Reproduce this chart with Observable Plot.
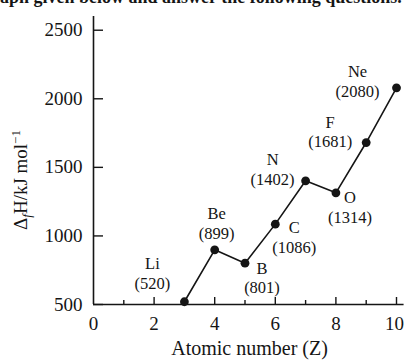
<!DOCTYPE html>
<html>
<head>
<meta charset="utf-8">
<script src="https://cdn.jsdelivr.net/npm/d3@7"></script>
<script src="https://cdn.jsdelivr.net/npm/@observablehq/plot@0.6"></script>
<style>
  html, body { margin: 0; padding: 0; background: #fff; }
  #chart svg { display: block; }
</style>
</head>
<body>
<div id="chart"></div>
<script>
// ---- data ----
const atomicNumber = [3, 4, 5, 6, 7, 8, 9, 10];
const elementSymbol = ["Li", "Be", "B", "C", "N", "O", "F", "Ne"];
const ionizationEnergy = [520, 899, 801, 1086, 1402, 1314, 1681, 2080];
const yTickValues = [500, 1000, 1500, 2000, 2500];
const xMajorTicks = [0, 2, 4, 6, 8, 10];
const xMinorTicks = [1, 3, 5, 7, 9];
const xTitle = "Atomic number (Z)";
const headerText = "aph given below and answer the following questions.";

// ---- layout (pixel offsets of each label from its point) ----
const labelOffset = {
  Li: [-32, -38], Be: [2, -36], B: [17, 5], C: [19, 4],
  N: [-33, -21], O: [14, 5], F: [-36, -20], Ne: [-39, -16]
};
const valueGap = 19.5;

const rows = atomicNumber.map((z, i) => ({z, el: elementSymbol[i], e: ionizationEnergy[i]}));
const ink = "#151515";

const labelMarks = rows.flatMap(r => {
  const [dx, dy] = labelOffset[r.el];
  return [
    Plot.text([r], {x: "z", y: "e", text: "el", dx, dy, fontSize: 16.5, fill: ink}),
    Plot.text([r], {x: "z", y: "e", text: d => `(${d.e})`, dx, dy: dy + valueGap, fontSize: 16.5, fill: ink})
  ];
});

const chart = Plot.plot({
  width: 404,
  height: 361,
  marginLeft: 93,
  marginRight: 8,
  marginTop: 16,
  marginBottom: 57,
  x: {domain: [0, 10], axis: null},
  y: {domain: [500, 2600], axis: null},
  style: {fontFamily: "'Liberation Serif', 'DejaVu Serif', serif", background: "#fff", color: ink},
  marks: [
    // axis lines
    Plot.ruleX([0], {y1: 500, y2: 2600, stroke: ink, strokeWidth: 1.6}),
    Plot.ruleY([500], {x1: 0, x2: 10.25, stroke: ink, strokeWidth: 1.6}),
    // y ticks (inward)
    Plot.ruleY(yTickValues, {y: d => d, x1: 0, x2: 0, insetRight: -10, stroke: ink, strokeWidth: 1.4}),
    // x ticks (inward)
    Plot.ruleX(xMajorTicks.filter(d => d > 0), {x: d => d, y1: 500, y2: 500, insetTop: -7, stroke: ink, strokeWidth: 1.4}),
    Plot.ruleX(xMinorTicks, {x: d => d, y1: 500, y2: 500, insetTop: -4, stroke: ink, strokeWidth: 1.4}),
    // tick labels
    Plot.text(yTickValues, {x: 0, y: d => d, text: d => String(d), textAnchor: "end", dx: -11, fontSize: 19, fill: ink}),
    Plot.text(xMajorTicks.filter(d => d < 10), {x: d => d, y: 500, text: d => String(d), dy: 19, fontSize: 19, fill: ink}),
    Plot.text(xMajorTicks.filter(d => d === 10), {x: d => d, y: 500, text: d => String(d), dy: 19, dx: -2, fontSize: 19, fill: ink}),
    // x title
    Plot.text([xTitle], {x: 5.15, y: 500, text: d => d, dy: 44, fontSize: 20, fill: ink}),
    // data
    Plot.line(rows, {x: "z", y: "e", stroke: ink, strokeWidth: 1.6}),
    Plot.dot(rows, {x: "z", y: "e", r: 4.4, fill: ink, stroke: "none"}),
    ...labelMarks
  ]
});

document.getElementById("chart").appendChild(chart);

// y-axis title with subscript / superscript
const svg = d3.select(chart);
const yl = svg.append("text")
  .attr("transform", "translate(27,180) rotate(-90)")
  .attr("text-anchor", "middle")
  .attr("font-size", 19)
  .attr("fill", ink);
yl.append("tspan").text("\u0394");
yl.append("tspan").attr("font-style", "italic").attr("font-size", 13).attr("dy", 4).text("f");
yl.append("tspan").attr("dy", -4).text("H/kJ mol");
yl.append("tspan").attr("font-size", 13).attr("dy", -7).text("\u22121");

// header line of the scanned page, clipped by the top edge as in the reference
svg.append("text")
  .attr("x", 0).attr("y", 3)
  .attr("text-anchor", "start")
  .attr("font-size", 18).attr("font-weight", "bold")
  .attr("fill", ink)
  .text(headerText);
</script>
</body>
</html>
